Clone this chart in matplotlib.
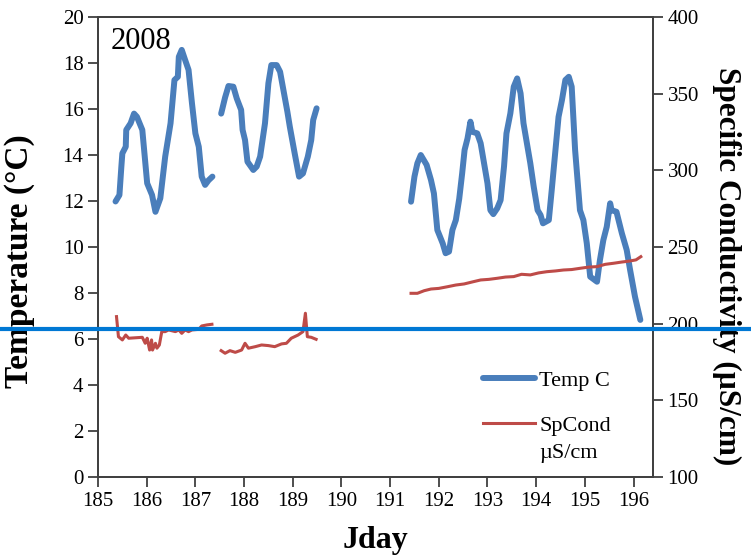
import matplotlib
matplotlib.use("Agg")
import matplotlib.pyplot as plt

plt.rcParams["font.family"] = ["Liberation Serif", "DejaVu Serif"]

YEAR_LABEL = "2008"
XTICKS = list(range(185, 197))

# water temperature (deg C), three logging periods
temp_day = [
    [185.36, 185.44, 185.48, 185.50, 185.57, 185.58, 185.67, 185.74, 185.80, 185.91,
     186.01, 186.11, 186.18, 186.28, 186.38, 186.49, 186.57, 186.64, 186.66, 186.72,
     186.79, 186.86, 186.93, 187.00, 187.07, 187.13, 187.20, 187.27, 187.35],
    [187.53, 187.61, 187.68, 187.78, 187.85, 187.94, 187.97, 188.02, 188.07, 188.19,
     188.26, 188.33, 188.43, 188.50, 188.56, 188.67, 188.74, 188.84, 188.89, 188.94,
     189.04, 189.13, 189.21, 189.31, 189.38, 189.42, 189.49],
    [191.43, 191.50, 191.56, 191.63, 191.75, 191.84, 191.90, 191.97, 192.08, 192.14,
     192.21, 192.28, 192.35, 192.42, 192.48, 192.53, 192.59, 192.65, 192.69, 192.79,
     192.86, 192.93, 193.00, 193.06, 193.12, 193.20, 193.27, 193.34, 193.39, 193.47,
     193.54, 193.61, 193.68, 193.74, 193.81, 193.88, 193.95, 194.03, 194.09, 194.14,
     194.26, 194.32, 194.39, 194.46, 194.53, 194.60, 194.67, 194.73, 194.80, 194.90,
     194.97, 195.04, 195.11, 195.25, 195.31, 195.38, 195.45, 195.52, 195.55, 195.65,
     195.76, 195.86, 195.93, 196.03, 196.14],
]
temp_val = [
    [11.98, 12.26, 13.50, 14.07, 14.36, 15.09, 15.38, 15.80, 15.66, 15.09,
     12.77, 12.26, 11.53, 12.12, 13.93, 15.38, 17.26, 17.40, 18.27, 18.57,
     18.13, 17.70, 16.25, 14.94, 14.36, 13.06, 12.70, 12.90, 13.06],
    [15.80, 16.50, 17.00, 16.97, 16.46, 15.96, 15.09, 14.65, 13.71, 13.35,
     13.50, 13.93, 15.38, 17.12, 17.91, 17.91, 17.62, 16.46, 15.88, 15.23,
     14.07, 13.06, 13.20, 13.93, 14.65, 15.52, 16.03],
    [11.97, 13.06, 13.64, 14.00, 13.57, 12.91, 12.33, 10.74, 10.16, 9.73,
     9.80, 10.74, 11.17, 12.10, 13.20, 14.22, 14.72, 15.45, 15.01, 14.94,
     14.51, 13.64, 12.77, 11.60, 11.43, 11.68, 12.04, 13.50, 14.94, 15.81,
     16.97, 17.33, 16.68, 15.38, 14.51, 13.64, 12.62, 11.60, 11.39, 11.03,
     11.17, 12.48, 14.07, 15.66, 16.39, 17.26, 17.40, 16.97, 14.22, 11.60,
     11.17, 10.16, 8.71, 8.49, 9.43, 10.30, 10.88, 11.90, 11.60, 11.53,
     10.60, 9.87, 9.00, 7.84, 6.83],
]

# specific conductivity (uS/cm)
cond_day = [
    [185.38, 185.42, 185.50, 185.57, 185.63, 185.91, 185.97, 186.01, 186.06, 186.10,
     186.12, 186.18, 186.21, 186.26, 186.31, 186.38, 186.45, 186.59, 186.66, 186.72,
     186.79, 186.86, 186.93, 187.07, 187.13, 187.24, 187.34],
    [187.53, 187.61, 187.71, 187.82, 187.95, 188.02, 188.09, 188.23, 188.36, 188.50,
     188.63, 188.77, 188.87, 188.97, 189.11, 189.21, 189.26, 189.30, 189.38, 189.48],
    [191.43, 191.56, 191.70, 191.84, 192.00, 192.18, 192.35, 192.52, 192.70, 192.86,
     193.03, 193.20, 193.37, 193.54, 193.70, 193.88, 194.05, 194.22, 194.40, 194.56,
     194.73, 194.90, 195.08, 195.25, 195.42, 195.59, 195.76, 195.93, 196.05, 196.15],
]
cond_val = [
    [204.6, 191.5, 189.4, 192.6, 190.5, 191.1, 187.2, 190.5, 182.8, 189.4,
     182.8, 187.2, 184.0, 186.1, 194.8, 194.8, 195.9, 194.8, 195.9, 193.7,
     195.9, 194.8, 195.9, 196.3, 198.5, 199.2, 199.6],
    [182.4, 180.7, 182.4, 181.3, 182.8, 187.2, 184.0, 185.0, 186.1, 185.7,
     185.0, 186.8, 187.2, 190.5, 192.6, 194.8, 206.8, 191.5, 191.1, 189.8],
    [219.8, 219.8, 221.5, 222.6, 223.0, 224.1, 225.2, 225.9, 227.3, 228.5,
     228.9, 229.6, 230.4, 230.7, 232.2, 231.8, 233.1, 233.9, 234.4, 235.0,
     235.3, 236.1, 236.9, 237.2, 238.7, 239.4, 240.2, 240.9, 241.6, 243.7],
]

REF_LEVEL = 196.5  # horizontal reference line, right-axis units

TEMP_COLOR = "#4A7EBB"
COND_COLOR = "#BE4B48"
AXIS_GRAY = "#404040"

fig = plt.figure(figsize=(7.51, 5.56), dpi=100)
ax = fig.add_axes([0.1305, 0.1421, 0.7390, 0.8273])
ax2 = ax.twinx()

for i, (d, v) in enumerate(zip(temp_day, temp_val)):
    ax.plot(d, v, color=TEMP_COLOR, lw=4.3, solid_capstyle="round",
            solid_joinstyle="round", label="Temp C" if i == 0 else None)
for i, (d, v) in enumerate(zip(cond_day, cond_val)):
    ax2.plot(d, v, color=COND_COLOR, lw=2.2, solid_joinstyle="round",
             label="SpCond" if i == 0 else None)

ax2.axhline(REF_LEVEL, xmin=-0.18, xmax=1.18, color="#0078D4", lw=3.0,
            clip_on=False, zorder=10)

ax.set_xlim(185, 196.4)
ax.set_ylim(0, 20)
ax2.set_ylim(100, 400)
ax.set_xticks(XTICKS)
ax.set_yticks(range(0, 21, 2))
ax2.set_yticks(range(100, 401, 50))

for a in (ax, ax2):
    a.tick_params(direction="out", length=7, width=1.3, colors=AXIS_GRAY,
                  labelcolor="black", labelsize=15)
    for s in a.spines.values():
        s.set_color(AXIS_GRAY)
        s.set_linewidth(1.3)

ax.set_xlabel("Jday", fontsize=23, fontweight="bold", va="center")
ax.xaxis.set_label_coords(0.5, -0.137)
ax.set_ylabel("Temperature (°C)", fontsize=24, fontweight="bold",
              va="center", ha="center")
ax.yaxis.set_label_coords(-0.142, 0.47)
ax2.set_ylabel("Specific Conductivity (µS/cm)", fontsize=22.5, fontweight="bold",
               rotation=270, va="center", ha="center")
ax2.yaxis.set_label_coords(1.133, 0.459)

ax.text(0.022, 0.978, YEAR_LABEL, transform=ax.transAxes, fontsize=22,
        ha="left", va="top")

h1, l1 = ax.get_legend_handles_labels()
h2, l2 = ax2.get_legend_handles_labels()
ax2.legend(h1 + h2, l1 + l2, loc="upper left", bbox_to_anchor=(0.694, 0.232),
           borderaxespad=0, borderpad=0, frameon=False, fontsize=16,
           handlelength=2.35, handletextpad=0.18, labelspacing=1.1)
ax2.text(0.795, 0.052, "µS/cm", transform=ax2.transAxes, fontsize=16,
         ha="left", va="center")

fig.savefig("out.png", dpi=100)
